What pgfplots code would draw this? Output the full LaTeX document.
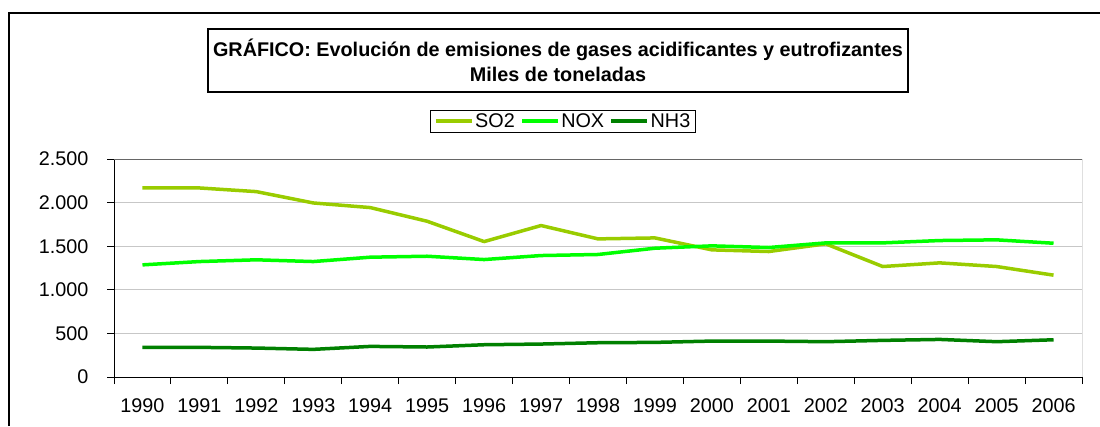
\documentclass[border=0pt]{standalone}
\usepackage{fontspec}
\setmainfont{Liberation Sans}
\usepackage{pgfplots}
\pgfplotsset{compat=1.18}
\definecolor{cso}{HTML}{99CC00}
\definecolor{cno}{HTML}{00FF00}
\definecolor{cnh}{HTML}{008000}
\begin{document}
\begin{tikzpicture}[font=\fontsize{19.8}{23}\selectfont]
\path[use as bounding box] (0pt,0pt) rectangle (1100pt,-426pt);
\draw[line width=2pt] (9pt,-426pt) -- (9pt,-12.5pt) -- (1100pt,-12.5pt);
\draw[line width=2pt] (207.5pt,-28.5pt) rectangle (908pt,-92pt);
\node[font=\fontsize{19.8}{25}\selectfont\bfseries, align=center] at (558pt,-60.5pt) {GRÁFICO: Evolución de emisiones de gases acidificantes y eutrofizantes\\Miles de toneladas};
\begin{axis}[
  at={(114pt,-377pt)}, anchor=south west,
  scale only axis, width=968pt, height=218pt,
  xmin=-0.5, xmax=16.5, ymin=0, ymax=2500,
  ytick={0,500,1000,1500,2000,2500},
  yticklabels={0,500,1.000,1.500,2.000,2.500},
  xtick={-0.5,0.5,...,16.5},
  xticklabels={1990,1991,1992,1993,1994,1995,1996,1997,1998,1999,2000,2001,2002,2003,2004,2005,2006},
  x tick label as interval,
  xticklabel style={yshift=-11pt},
  yticklabel style={xshift=-15pt},
  ymajorgrids, grid style={color=black!22, line width=1pt},
  axis x line*=bottom, axis y line*=left,
  axis line style={-, black, line width=1pt},
  tick align=outside, major tick length=7pt,
  tick style={black, line width=1pt},
  no markers,
  legend columns=-1,
  legend style={at={(0.4638,1.174)}, anchor=center, draw=black, line width=0.8pt,
    inner xsep=4pt, inner ysep=2pt, nodes={inner sep=1.5pt},
    /tikz/every even column/.append style={column sep=4pt}},
  legend image code/.code={\draw[#1, line width=3.5pt] (0pt,0pt) -- (36pt,0pt);},
]
\addplot[cso, line width=3.5pt, line join=round] coordinates {(0,2168) (1,2168) (2,2126) (3,1996) (4,1943) (5,1786) (6,1553) (7,1737) (8,1584) (9,1595) (10,1458) (11,1439) (12,1527) (13,1267) (14,1309) (15,1267) (16,1168)};
\addlegendentry{SO2}
\addplot[cno, line width=3.5pt, line join=round] coordinates {(0,1286) (1,1324) (2,1344) (3,1324) (4,1374) (5,1385) (6,1347) (7,1393) (8,1405) (9,1477) (10,1504) (11,1485) (12,1538) (13,1538) (14,1565) (15,1573) (16,1534)};
\addlegendentry{NOX}
\addplot[cnh, line width=3.5pt, line join=round] coordinates {(0,340) (1,340) (2,332) (3,317) (4,351) (5,344) (6,370) (7,378) (8,393) (9,397) (10,412) (11,412) (12,405) (13,420) (14,431) (15,405) (16,427)};
\addlegendentry{NH3}
\draw[color=black!60, line width=1pt] (rel axis cs:0,1) -- (rel axis cs:1,1);
\draw[black, line width=1pt] (rel axis cs:1,0) -- (rel axis cs:1,1);
\end{axis}
\end{tikzpicture}
\end{document}
